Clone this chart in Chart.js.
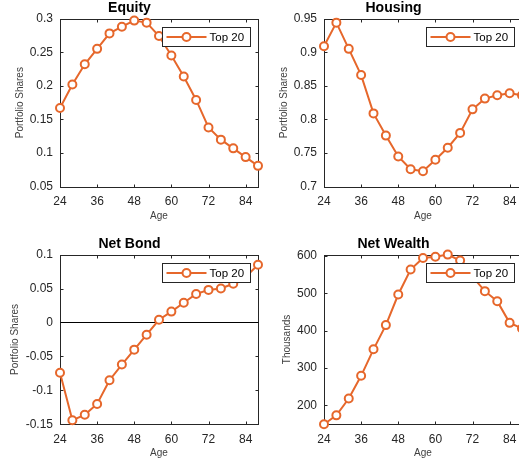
<!DOCTYPE html>
<html>
<head>
<meta charset="utf-8">
<script src="https://cdn.jsdelivr.net/npm/chart.js@4/dist/chart.umd.min.js"></script>
<style>
html, body { margin: 0; padding: 0; background: #fff; }
body { position: relative; width: 519px; height: 466px; overflow: hidden; }
canvas { position: absolute; }
</style>
</head>
<body>
<canvas id="equityChart"></canvas>
<canvas id="housingChart"></canvas>
<canvas id="bondChart"></canvas>
<canvas id="wealthChart"></canvas>
<script>
// data
const ages = [24, 28, 32, 36, 40, 44, 48, 52, 56, 60, 64, 68, 72, 76, 80, 84, 88];
const ageTicks = [24, 36, 48, 60, 72, 84];
const seriesLabel = 'Top 20';

const equity = [0.167, 0.202, 0.232, 0.255, 0.278, 0.288, 0.297, 0.294, 0.274, 0.245, 0.214, 0.179, 0.138, 0.120, 0.107, 0.094, 0.081];
const housing = [0.909, 0.944, 0.905, 0.866, 0.809, 0.776, 0.745, 0.726, 0.723, 0.740, 0.758, 0.780, 0.815, 0.831, 0.836, 0.839, 0.836];
const netBond = [-0.074, -0.144, -0.136, -0.120, -0.085, -0.062, -0.040, -0.018, 0.004, 0.016, 0.029, 0.042, 0.048, 0.050, 0.057, 0.067, 0.085];
const netWealth = [149, 173, 218, 279, 350, 415, 497, 564, 595, 598, 604, 588, 545, 506, 479, 421, 406];

const equityTicks = [0.05, 0.1, 0.15, 0.2, 0.25, 0.3];
const equityTickLabels = ['0.05', '0.1', '0.15', '0.2', '0.25', '0.3'];
const housingTicks = [0.7, 0.75, 0.8, 0.85, 0.9, 0.95];
const housingTickLabels = ['0.7', '0.75', '0.8', '0.85', '0.9', '0.95'];
const bondTicks = [-0.15, -0.1, -0.05, 0, 0.05, 0.1];
const bondTickLabels = ['-0.15', '-0.1', '-0.05', '0', '0.05', '0.1'];
const wealthTicks = [200, 300, 400, 500, 600];
const wealthTickLabels = ['200', '300', '400', '500', '600'];

const ORANGE = '#E6672B';
const AXIS = '#262626';
const FONT = "'Liberation Sans', Arial, Helvetica, sans-serif";

// box round the axes with inward ticks, plus legend
const framePlugin = {
    id: 'frame',
    beforeDatasetsDraw(chart) {
        const { ctx, chartArea: a, scales } = chart;
        const l = Math.round(a.left) + 0.5, r = Math.round(a.right) + 0.5;
        const t = Math.round(a.top) + 0.5, b = Math.round(a.bottom) + 0.5;
        ctx.save();
        ctx.strokeStyle = AXIS;
        ctx.lineWidth = 1;
        ctx.strokeRect(l, t, r - l, b - t);
        ctx.beginPath();
        scales.x.ticks.forEach(tk => {
            const x = Math.round(scales.x.getPixelForValue(tk.value)) + 0.5;
            ctx.moveTo(x, b); ctx.lineTo(x, b - 3);
            ctx.moveTo(x, t); ctx.lineTo(x, t + 3);
        });
        scales.y.ticks.forEach(tk => {
            const y = Math.round(scales.y.getPixelForValue(tk.value)) + 0.5;
            ctx.moveTo(l, y); ctx.lineTo(l + 3, y);
            ctx.moveTo(r, y); ctx.lineTo(r - 3, y);
        });
        ctx.stroke();
        if (chart.options.plugins.frame && chart.options.plugins.frame.zeroLine) {
            const y0 = Math.round(scales.y.getPixelForValue(0)) + 0.5;
            ctx.strokeStyle = '#000';
            ctx.beginPath();
            ctx.moveTo(l, y0); ctx.lineTo(r, y0);
            ctx.stroke();
        }
        ctx.restore();
    },
    afterDraw(chart) {
        const { ctx, chartArea: a } = chart;
        const ds = chart.data.datasets[0];
        const w = 88, h = 19;
        const x = Math.round(a.right) - 8 - w + 0.5;
        const y = Math.round(a.top) + 8 + 0.5;
        ctx.save();
        ctx.fillStyle = '#fff';
        ctx.fillRect(x, y, w, h);
        ctx.strokeStyle = AXIS;
        ctx.lineWidth = 1;
        ctx.strokeRect(x, y, w, h);
        const cy = y + h / 2;
        ctx.strokeStyle = ds.borderColor;
        ctx.lineWidth = 2;
        ctx.beginPath();
        ctx.moveTo(x + 4, cy); ctx.lineTo(x + 44, cy);
        ctx.stroke();
        ctx.beginPath();
        ctx.arc(x + 24, cy, 4, 0, Math.PI * 2);
        ctx.fillStyle = '#fff';
        ctx.fill();
        ctx.stroke();
        ctx.fillStyle = '#000';
        ctx.font = '11.5px ' + FONT;
        ctx.textBaseline = 'middle';
        ctx.fillText(ds.label, x + 47, cy + 0.5);
        ctx.restore();
    }
};

function makeChart(id, p) {
    const canvas = document.getElementById(id);
    canvas.width = 264;
    canvas.height = p.height;
    canvas.style.left = p.left + 'px';
    canvas.style.top = p.top + 'px';
    canvas.style.width = '264px';
    canvas.style.height = p.height + 'px';

    return new Chart(canvas.getContext('2d'), {
        type: 'line',
        data: {
            labels: ages,
            datasets: [{
                label: seriesLabel,
                data: ages.map((a, i) => ({ x: a, y: p.values[i] })),
                borderColor: ORANGE,
                borderWidth: 2,
                pointRadius: 4,
                pointBorderWidth: 2,
                pointBackgroundColor: '#fff',
                pointBorderColor: ORANGE,
                tension: 0,
                clip: false
            }]
        },
        options: {
            responsive: false,
            animation: false,
            devicePixelRatio: 1,
            layout: { padding: { left: 0, right: 5, top: 0, bottom: 0 } },
            plugins: {
                legend: { display: false },
                tooltip: { enabled: false },
                frame: { zeroLine: !!p.zeroLine },
                title: {
                    display: true,
                    text: p.title,
                    color: '#000',
                    font: { family: FONT, size: 14, weight: 'bold', lineHeight: 1.2 },
                    padding: { top: 0, bottom: 1.8 }
                }
            },
            scales: {
                x: {
                    type: 'linear',
                    position: 'bottom',
                    min: 24,
                    max: 88,
                    afterBuildTicks: s => { s.ticks = ageTicks.map(v => ({ value: v })); },
                    afterFit: s => { s.height = p.xAxisHeight; },
                    grid: { display: false, drawTicks: false, tickLength: 0 },
                    border: { display: false },
                    ticks: {
                        padding: 8,
                        color: AXIS,
                        maxRotation: 0,
                        autoSkip: false,
                        font: { family: FONT, size: 12 },
                        callback: v => String(v)
                    },
                    title: {
                        display: true,
                        text: 'Age',
                        color: '#404040',
                        font: { family: FONT, size: 10, lineHeight: 1.2 },
                        padding: { top: 0, bottom: p.xTitlePad }
                    }
                },
                y: {
                    type: 'linear',
                    min: p.yMin,
                    max: p.yMax,
                    afterBuildTicks: s => { s.ticks = p.yTicks.map(v => ({ value: v })); },
                    afterFit: s => { s.width = 60; },
                    grid: { display: false, drawTicks: false, tickLength: 0 },
                    border: { display: false },
                    ticks: {
                        padding: 7,
                        color: AXIS,
                        autoSkip: false,
                        font: { family: FONT, size: 12 },
                        callback: (v, i) => p.yLabels[i]
                    },
                    title: {
                        display: true,
                        text: p.yTitle,
                        color: '#404040',
                        font: { family: FONT, size: 10, lineHeight: 1.2 },
                        padding: { top: p.yTitlePad, bottom: 0 }
                    }
                }
            }
        },
        plugins: [framePlugin]
    });
}

makeChart('equityChart', {
    left: 0, top: 0, height: 236, xAxisHeight: 49.3, xTitlePad: 13.3,
    title: 'Equity', yTitle: 'Portfolio Shares', yTitlePad: 14,
    values: equity, yMin: 0.05, yMax: 0.3, yTicks: equityTicks, yLabels: equityTickLabels
});
makeChart('housingChart', {
    left: 264, top: 0, height: 236, xAxisHeight: 49.3, xTitlePad: 13.3,
    title: 'Housing', yTitle: 'Portfolio Shares', yTitlePad: 14,
    values: housing, yMin: 0.7, yMax: 0.95, yTicks: housingTicks, yLabels: housingTickLabels
});
makeChart('bondChart', {
    left: 0, top: 236, height: 230, xAxisHeight: 41.7, xTitlePad: 6.7,
    title: 'Net Bond', yTitle: 'Portfolio Shares', yTitlePad: 9, zeroLine: true,
    values: netBond, yMin: -0.15, yMax: 0.1, yTicks: bondTicks, yLabels: bondTickLabels
});
makeChart('wealthChart', {
    left: 264, top: 236, height: 230, xAxisHeight: 41.7, xTitlePad: 6.7,
    title: 'Net Wealth', yTitle: 'Thousands', yTitlePad: 17,
    values: netWealth, yMin: 149, yMax: 604, yTicks: wealthTicks, yLabels: wealthTickLabels
});
</script>
</body>
</html>
